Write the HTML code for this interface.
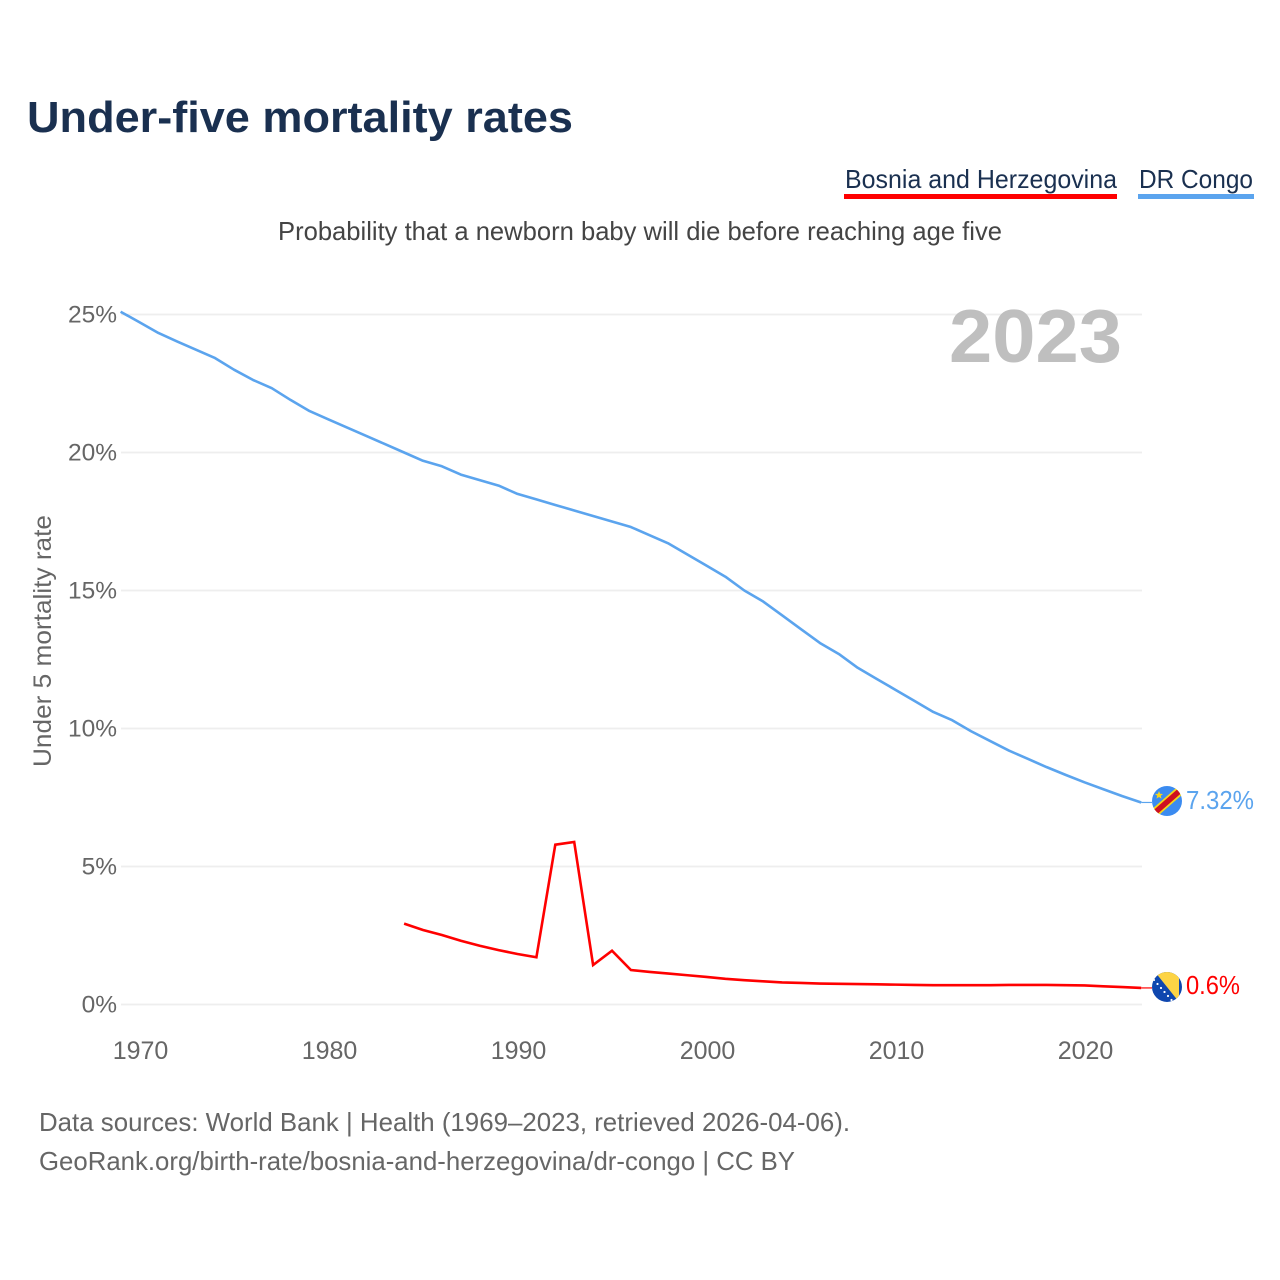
<!DOCTYPE html>
<html lang="en">
<head>
<meta charset="utf-8">
<title>Under-five mortality rates</title>
<style>
html,body{margin:0;padding:0;background:#fff}
svg{display:block;font-family:"Liberation Sans",sans-serif}
</style>
</head>
<body>
<svg id="chart" xmlns="http://www.w3.org/2000/svg" width="1280" height="1280" viewBox="0 0 1280 1280">
  <defs>
    <clipPath id="flag-clip-cd"><circle id="clip-cd" cx="0" cy="0" r="15"/></clipPath>
    <clipPath id="flag-clip-ba"><circle id="clip-ba" cx="0" cy="0" r="15"/></clipPath>
  </defs>
  <text x="27" y="132" font-size="44" font-weight="bold" fill="#1a3050" textLength="546" lengthAdjust="spacingAndGlyphs">Under-five mortality rates</text>

  <g>
    <g>
      <text x="845" y="188" font-size="26" fill="#1a3050" textLength="272" lengthAdjust="spacingAndGlyphs">Bosnia and Herzegovina</text>
      <rect x="844" y="194" width="273" height="5" fill="#ff0000"/>
    </g>
    <g>
      <text x="1139" y="188" font-size="26" fill="#1a3050" textLength="114" lengthAdjust="spacingAndGlyphs">DR Congo</text>
      <rect x="1138" y="194" width="116" height="5" fill="#5ba4ee"/>
    </g>
  </g>

  <text x="278" y="240" font-size="26" fill="#444" textLength="724" lengthAdjust="spacingAndGlyphs">Probability that a newborn baby will die before reaching age five</text>

  <g id="grid"></g>
  <g id="y-ticks"></g>
  <g id="x-ticks"></g>

  <text x="949" y="362" font-size="75" font-weight="bold" fill="#bfbfbf" textLength="173" lengthAdjust="spacingAndGlyphs">2023</text>

  <text transform="translate(51,767) rotate(-90)" x="0" y="0" font-size="25" fill="#666" textLength="252" lengthAdjust="spacingAndGlyphs">Under 5 mortality rate</text>

  <path id="line-cd" fill="none" stroke="#5ba4ee" stroke-width="2.6" stroke-linejoin="round"/>
  <path id="line-ba" fill="none" stroke="#ff0000" stroke-width="2.6" stroke-linejoin="miter"/>
  <line id="connector-cd" stroke="#5ba4ee" stroke-width="1.2"/>
  <line id="connector-ba" stroke="#ff0000" stroke-width="1.2"/>

  <g id="flag-cd">
    <g clip-path="url(#flag-clip-cd)">
      <rect x="-16" y="-16" width="32" height="32" fill="#3b8bf0"/>
      <line x1="-16" y1="15" x2="16" y2="-13" stroke="#f7d618" stroke-width="9"/>
      <line x1="-16" y1="15" x2="16" y2="-13" stroke="#ce1021" stroke-width="5.5"/>
      <polygon points="-8,-10 -6.9,-7.2 -4,-7 -6.2,-5.2 -5.5,-2.4 -8,-4 -10.5,-2.4 -9.8,-5.2 -12,-7 -9.1,-7.2" fill="#f7d618"/>
    </g>
  </g>
  <g id="flag-ba">
    <g clip-path="url(#flag-clip-ba)">
      <rect x="-16" y="-16" width="32" height="32" fill="#0f47af"/>
      <polygon points="-12,-15 12,-15 12,15" fill="#fdd445"/>
      <g fill="#fff">
        <circle cx="-13" cy="-7" r="1.1"/>
        <circle cx="-9.5" cy="-3" r="1.1"/>
        <circle cx="-6" cy="1" r="1.1"/>
        <circle cx="-2.5" cy="5" r="1.1"/>
        <circle cx="1" cy="9" r="1.1"/>
        <circle cx="4.5" cy="13" r="1.1"/>
      </g>
    </g>
  </g>
  <text id="label-cd" x="1186" font-size="26" fill="#5ba4ee" textLength="68" lengthAdjust="spacingAndGlyphs"></text>
  <text id="label-ba" x="1186" font-size="26" fill="#ff0000" textLength="54" lengthAdjust="spacingAndGlyphs"></text>

  <g>
    <text x="39" y="1131" font-size="26" fill="#666" textLength="811" lengthAdjust="spacingAndGlyphs">Data sources: World Bank | Health (1969–2023, retrieved 2026-04-06).</text>
    <text x="39" y="1170" font-size="26" fill="#666" textLength="756" lengthAdjust="spacingAndGlyphs">GeoRank.org/birth-rate/bosnia-and-herzegovina/dr-congo | CC BY</text>
  </g>
</svg>
<script>
const yTickValues = [0, 5, 10, 15, 20, 25];
const yTickLabels = ["0%", "5%", "10%", "15%", "20%", "25%"];
const xTickYears = [1970, 1980, 1990, 2000, 2010, 2020];
const xTickLabels = ["1970", "1980", "1990", "2000", "2010", "2020"];
const drCongoStartYear = 1969;
const drCongoValues = [25.1, 24.72, 24.33, 24.02, 23.72, 23.42, 23.0, 22.63, 22.33, 21.9, 21.5, 21.2, 20.9, 20.6, 20.3, 20.0, 19.7, 19.5, 19.2, 19.0, 18.8, 18.5, 18.3, 18.1, 17.9, 17.7, 17.5, 17.3, 17.0, 16.7, 16.3, 15.9, 15.5, 15.0, 14.6, 14.1, 13.6, 13.1, 12.7, 12.2, 11.8, 11.4, 11.0, 10.6, 10.3, 9.9, 9.55, 9.2, 8.9, 8.6, 8.32, 8.05, 7.8, 7.55, 7.32];
const bosniaStartYear = 1984;
const bosniaValues = [2.93, 2.7, 2.52, 2.31, 2.13, 1.97, 1.83, 1.71, 5.79, 5.89, 1.43, 1.95, 1.25, 1.18, 1.12, 1.06, 1.0, 0.93, 0.88, 0.84, 0.8, 0.78, 0.76, 0.75, 0.74, 0.73, 0.72, 0.71, 0.7, 0.7, 0.7, 0.7, 0.71, 0.71, 0.71, 0.7, 0.69, 0.66, 0.63, 0.6];
const drCongoLabel = "7.32%";
const bosniaLabel = "0.6%";

const NS = "http://www.w3.org/2000/svg";
const xScale = year => 139.5 + (year - 1970) * 18.9;
const yScale = value => 1004.5 - value * 27.6;

function linePath(startYear, values) {
  return values.map((v, i) => (i ? "L" : "M") + xScale(startYear + i).toFixed(2) + " " + yScale(v).toFixed(2)).join("");
}

const grid = document.getElementById("grid");
const yTicks = document.getElementById("y-ticks");
yTickValues.forEach((v, i) => {
  const ln = document.createElementNS(NS, "line");
  
  
  ln.setAttribute("x1", 121);
  ln.setAttribute("x2", 1142);
  ln.setAttribute("y1", yScale(v));
  ln.setAttribute("y2", yScale(v));
  ln.setAttribute("stroke", "#eeeeee");
  ln.setAttribute("stroke-width", 1.8);
  grid.appendChild(ln);

  const t = document.createElementNS(NS, "text");
  
  
  t.setAttribute("x", 117);
  t.setAttribute("y", yScale(v) + 8);
  t.setAttribute("text-anchor", "end");
  t.setAttribute("font-size", 24.5);
  t.setAttribute("fill", "#666");
  t.textContent = yTickLabels[i];
  yTicks.appendChild(t);
});

const xTicks = document.getElementById("x-ticks");
xTickYears.forEach((yr, i) => {
  const t = document.createElementNS(NS, "text");
  
  
  t.setAttribute("x", xScale(yr) + 1);
  t.setAttribute("y", 1059);
  t.setAttribute("text-anchor", "middle");
  t.setAttribute("font-size", 25);
  t.setAttribute("fill", "#666");
  t.textContent = xTickLabels[i];
  xTicks.appendChild(t);
});

document.getElementById("line-cd").setAttribute("d", linePath(drCongoStartYear, drCongoValues));
document.getElementById("line-ba").setAttribute("d", linePath(bosniaStartYear, bosniaValues));

const endYCd = yScale(drCongoValues[drCongoValues.length - 1]);
const endYBa = yScale(bosniaValues[bosniaValues.length - 1]);
const endX = xScale(2023);
const connCd = document.getElementById("connector-cd");
connCd.setAttribute("x1", endX);
connCd.setAttribute("x2", 1152);
connCd.setAttribute("y1", endYCd);
connCd.setAttribute("y2", endYCd);
const connBa = document.getElementById("connector-ba");
connBa.setAttribute("x1", endX);
connBa.setAttribute("x2", 1152);
connBa.setAttribute("y1", endYBa);
connBa.setAttribute("y2", endYBa);
document.getElementById("flag-cd").setAttribute("transform", "translate(1167," + (endYCd - 1.5) + ")");
document.getElementById("flag-ba").setAttribute("transform", "translate(1167," + (endYBa - 1) + ")");
const labelCd = document.getElementById("label-cd");
labelCd.setAttribute("y", endYCd + 6.5);
labelCd.textContent = drCongoLabel;
const labelBa = document.getElementById("label-ba");
labelBa.setAttribute("y", endYBa + 6);
labelBa.textContent = bosniaLabel;
</script>
</body>
</html>
